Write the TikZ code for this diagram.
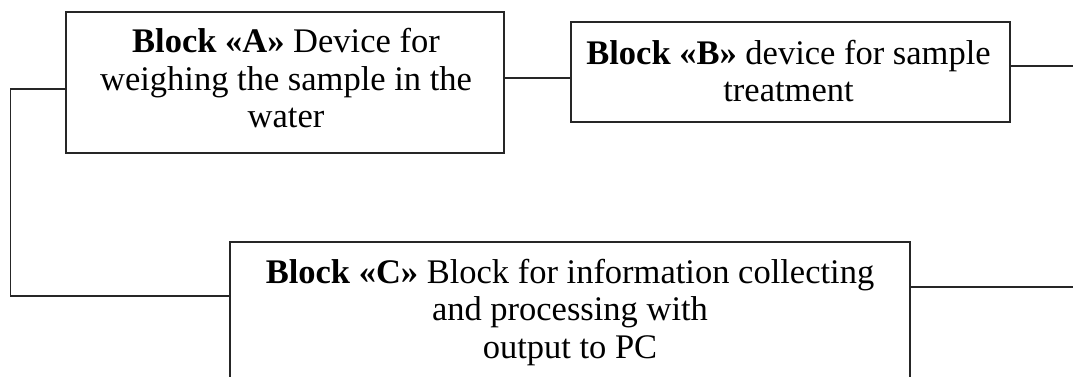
\documentclass[tikz,border=0pt]{standalone}
\usepackage{fontspec}
\setmainfont{Liberation Serif}
\begin{document}
\begin{tikzpicture}[x=1pt,y=-1pt,
  blockbox/.style={draw=black!85, line width=1.2pt, rectangle, inner sep=0pt},
  blocktext/.style={anchor=north, inner sep=0pt, align=center,
    font=\fontsize{34.5}{37.5}\selectfont},
  wire/.style={draw=black!85, line width=1.2pt}]
\clip (0,0) rectangle (1073,377);
\fill[white] (0,0) rectangle (1073,377);
% boxes
\node[blockbox, minimum width=438pt, minimum height=141pt] (A) at (285,82.5) {};
\node[blockbox, minimum width=439pt, minimum height=100pt] (B) at (790.5,72) {};
\node[blockbox, minimum width=680pt, minimum height=156pt] (C) at (570,320) {};
% texts
\node[blocktext] (At) at (286,28.3) {\textbf{Block «A»} Device for\\weighing the sample in the\\water};
\node[blocktext] (Bt) at (788.5,39.9) {\textbf{Block «B»} device for sample\\treatment};
\node[blocktext] (Ct) at (570,258.6) {\textbf{Block «C»} Block for information collecting\\and processing with\\output to PC};
% free ends
\coordinate (Bout) at (1073,66);
\coordinate (Cout) at (1073,287);
% connectors
\draw[wire] ([yshift=4.5pt]A.east) -- ([yshift=-6pt]B.west);
\draw[wire] ([yshift=-6.5pt]A.west) -- ++(-55,0) |- ([yshift=24pt]C.west);
\draw[wire] ([yshift=6pt]B.east) -- (Bout);
\draw[wire] ([yshift=33pt]C.east) -- (Cout);
\end{tikzpicture}
\end{document}
